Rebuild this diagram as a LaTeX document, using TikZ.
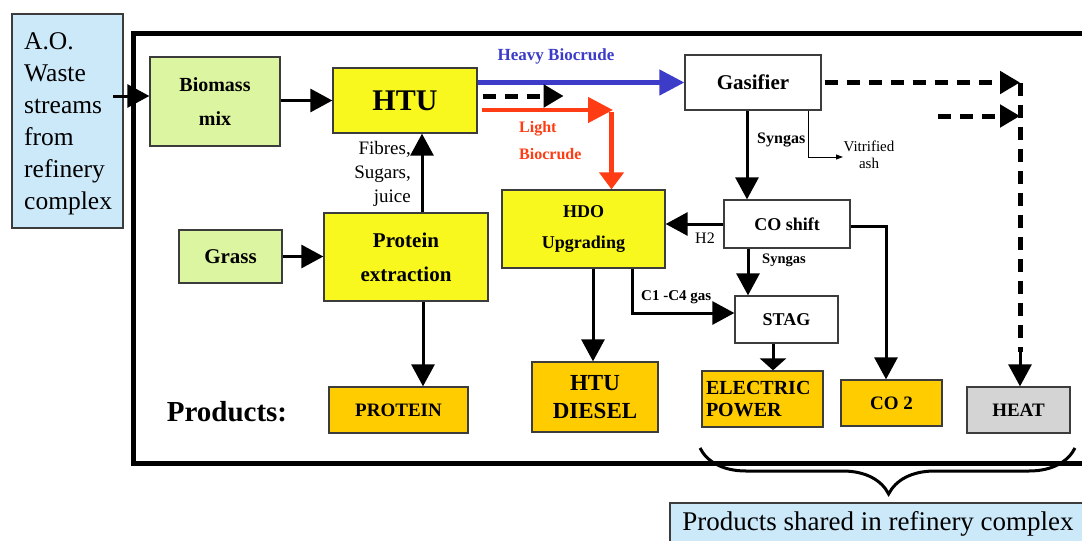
\documentclass[tikz,border=0pt]{standalone}
\usepackage{fontspec}
\setmainfont{Liberation Serif}
\usetikzlibrary{arrows.meta,decorations.pathreplacing}
\definecolor{lgreen}{RGB}{220,245,160}
\definecolor{byellow}{RGB}{248,248,30}
\definecolor{porange}{RGB}{255,204,0}
\definecolor{lgray}{RGB}{212,212,212}
\definecolor{lblue}{RGB}{204,233,250}
\definecolor{hblue}{RGB}{60,60,200}
\definecolor{lred}{RGB}{255,60,20}
\definecolor{bord}{RGB}{60,60,60}
\tikzset{
  box/.style={draw=bord, line width=1.3pt, inner sep=2pt, font=\bfseries, align=center},
  arr/.style={line width=3pt, -{Triangle[length=22pt,width=23pt]}},
  darr/.style={line width=5pt, dash pattern=on 13pt off 9pt, -{Triangle[length=20pt,width=22pt]}},
  dline/.style={line width=5pt, dash pattern=on 13pt off 9pt},
  bigarr/.style={line width=4.5pt, -{Triangle[length=25pt,width=25pt]}},
  lbl/.style={inner sep=0pt},
}
\begin{document}
\begin{tikzpicture}[x=1pt,y=-1pt]
\clip (0,0) rectangle (1082,541);
\fill[white] (0,0) rectangle (1082,541);

% frame
\draw[line width=5pt] (133,33) rectangle (1095,463);

% left source box
\node[draw=bord, line width=1.5pt, fill=lblue, minimum width=111pt, minimum height=214pt, inner sep=0pt] (ao) at (67.5,121) {};
\node[lbl, anchor=north west, align=left, font=\fontsize{25.5}{32}\selectfont] (aotext) at (24,32)
  {A.O.\\Waste\\streams\\from\\refinery\\complex};

% process boxes
\node[box, fill=lgreen, minimum width=130pt, minimum height=89pt, font=\fontsize{20}{34}\selectfont\bfseries] (bio) at (215,101.5) {Biomass\\mix};
\node[box, fill=byellow, minimum width=144pt, minimum height=65pt, font=\fontsize{30}{34}\selectfont\bfseries] (htu) at (405,100.5) {HTU};
\node[box, fill=white, minimum width=136pt, minimum height=55pt, font=\fontsize{21}{25}\selectfont\bfseries] (gas) at (753,82.5) {Gasifier};
\node[box, fill=byellow, minimum width=164pt, minimum height=88pt, font=\fontsize{21}{34}\selectfont\bfseries] (prot) at (406,257) {Protein\\extraction};
\node[box, fill=lgreen, minimum width=103pt, minimum height=53pt, font=\fontsize{21}{25}\selectfont\bfseries] (grass) at (230.5,256.5) {Grass};
\node[box, fill=byellow, minimum width=163pt, minimum height=78pt, font=\fontsize{18}{31}\selectfont\bfseries] (hdo) at (583.5,229) {HDO\\Upgrading};
\node[box, fill=white, minimum width=126pt, minimum height=48pt, font=\fontsize{18}{22}\selectfont\bfseries] (co) at (787,224) {CO shift};
\node[box, fill=white, minimum width=103pt, minimum height=47pt, font=\fontsize{18}{22}\selectfont\bfseries] (stag) at (786.5,319.5) {STAG};

% products
\node[lbl, font=\fontsize{29}{34}\selectfont\bfseries] (prodlbl) at (227,412) {Products:};
\node[box, fill=porange, minimum width=139pt, minimum height=46pt, font=\fontsize{19}{23}\selectfont\bfseries] (protein) at (398.5,410) {PROTEIN};
\node[box, fill=porange, minimum width=126pt, minimum height=70pt, font=\fontsize{23}{28}\selectfont\bfseries] (diesel) at (595,397) {HTU\\DIESEL};
\node[box, fill=porange, minimum width=121pt, minimum height=56pt, text width=113pt, align=left, font=\fontsize{20}{22}\selectfont\bfseries] (elec) at (762.5,399) {ELECTRIC\\POWER};
\node[box, fill=porange, minimum width=101pt, minimum height=46pt, font=\fontsize{19}{23}\selectfont\bfseries] (co2) at (891.5,403) {CO 2};
\node[box, fill=lgray, minimum width=103pt, minimum height=46pt, font=\fontsize{19}{23}\selectfont\bfseries] (heat) at (1018.5,410) {HEAT};

% shared box
\node[draw=bord, line width=1.5pt, fill=lblue, minimum width=430pt, minimum height=50pt, anchor=north west, inner sep=0pt] (sharedbox) at (669,502) {};
\node[lbl, font=\fontsize{27}{30}\selectfont] (shared) at (878,524) {Products shared in refinery complex};

% brace
\draw[line width=3pt, decorate, decoration={brace, amplitude=46pt, aspect=0.497}] (1075,448) -- (700,448);

% connectors
\coordinate (aoin) at (113,96);
\draw[arr] (aoin) -- (aoin -| bio.west);
\draw[arr] (bio.east |- htu.west) -- (htu.west);

% heavy biocrude
\draw[bigarr, hblue] ([yshift=18pt]htu.east) -- ([yshift=18pt]htu.east -| gas.west);
\node[lbl, text=hblue, font=\fontsize{17}{19}\selectfont\bfseries] (heavylbl) at (556,56) {Heavy Biocrude};

% dashed from HTU
\draw[darr] ([xshift=5pt,yshift=4.5pt]htu.east) -- ++(81,0);

% light biocrude
\coordinate (lbc) at (613,110);
\draw[bigarr, lred] ([xshift=4pt,yshift=-9.5pt]htu.east) -- (lbc);
\draw[line width=4.5pt, lred, -{Triangle[length=17pt,width=24pt]}] (611.5,112) -- (611.5,112 |- hdo.north);
\node[lbl, text=lred, anchor=west, align=left, font=\fontsize{16}{27}\selectfont\bfseries] (lightlbl) at (519,141) {Light\\Biocrude};

% gasifier outputs
\coordinate (hc) at (1020,82.5);
\draw[darr] ([xshift=3pt]gas.east) -- (hc);
\draw[dline] (hc) -- (1020,352);
\draw[arr, line width=3pt] (1020,350) -- (1020,350 |- heat.north);
\coordinate (hc2) at (1020,116);
\draw[darr] (938,116) -- (hc2);

\draw[arr] ([xshift=-6pt]gas.south) -- ([xshift=-6pt]gas.south |- co.north);
\node[lbl, anchor=west, font=\fontsize{16}{19}\selectfont\bfseries] (syn1) at (757,140) {Syngas};

\coordinate (ash) at (843,157);
\draw[line width=1pt, -{Triangle[length=7pt,width=5pt]}] ([xshift=55pt]gas.south) |- (ash);
\node[lbl, align=center, font=\fontsize{15}{17}\selectfont] (ashlbl) at (869,155) {Vitrified\\ash};

% CO shift outputs
\draw[arr] (co.west) -- (co.west -| hdo.east);
\node[lbl, font=\fontsize{16}{19}\selectfont] (h2lbl) at (705,238) {H2};
\draw[arr] ([xshift=-39pt]co.south) -- ([xshift=-39pt]co.south |- stag.north);
\node[lbl, anchor=west, font=\fontsize{14.5}{17}\selectfont\bfseries] (syn2) at (762,260) {Syngas};
\draw[arr] ([yshift=-2pt]co.east) -| ([xshift=-5.5pt]co2.north);

% HDO outputs
\draw[arr] ([xshift=48.5pt]hdo.south) |- ([yshift=6.5pt]stag.west);
\node[lbl, anchor=west, font=\fontsize{15}{18}\selectfont\bfseries] (c1lbl) at (641,297) {C1 -C4 gas};
\draw[arr] ([xshift=9.5pt]hdo.south) -- ([xshift=9.5pt]hdo.south |- diesel.north);

% STAG output
\draw[line width=3pt, -{Triangle[length=12pt,width=26pt]}] ([xshift=-13.5pt]stag.south) -- ([xshift=-13.5pt]stag.south |- elec.north);

% grass / protein
\draw[arr] (grass.east) -- (grass.east -| prot.west);
\draw[arr] ([xshift=16pt]prot.north) -- ([xshift=16pt]prot.north |- htu.south);
\node[lbl, anchor=east, align=right, font=\fontsize{19}{24}\selectfont] (fibres) at (411,174) {Fibres,\\Sugars,\\juice};
\draw[arr] ([xshift=17pt]prot.south) -- ([xshift=17pt]prot.south |- protein.north);
\end{tikzpicture}
\end{document}
